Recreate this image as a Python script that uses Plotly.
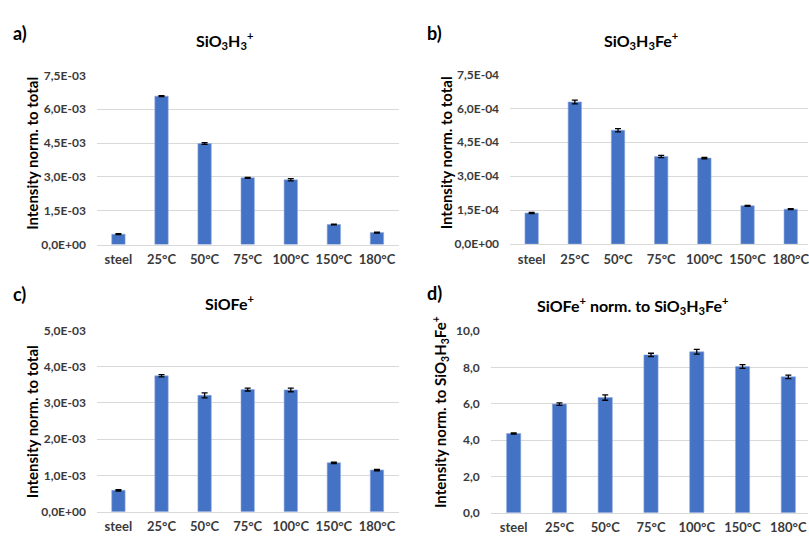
import plotly.graph_objects as go

W, H = 809, 542

categories = ["steel", "25°C", "50°C", "75°C", "100°C", "150°C", "180°C"]

# a) SiO3H3+
a_vals = [0.46e-3, 6.58e-3, 4.48e-3, 2.96e-3, 2.87e-3, 0.89e-3, 0.53e-3]
a_err = [0.02e-3, 0.02e-3, 0.04e-3, 0.02e-3, 0.05e-3, 0.02e-3, 0.02e-3]
a_ticks = [0, 1.5e-3, 3.0e-3, 4.5e-3, 6.0e-3, 7.5e-3]
a_ticktext = ["0,0E+00", "1,5E-03", "3,0E-03", "4,5E-03", "6,0E-03", "7,5E-03"]

# b) SiO3H3Fe+
b_vals = [1.37e-4, 6.28e-4, 5.03e-4, 3.87e-4, 3.80e-4, 1.69e-4, 1.54e-4]
b_err = [0.03e-4, 0.08e-4, 0.07e-4, 0.05e-4, 0.03e-4, 0.02e-4, 0.02e-4]
b_ticks = [0, 1.5e-4, 3.0e-4, 4.5e-4, 6.0e-4, 7.5e-4]
b_ticktext = ["0,0E+00", "1,5E-04", "3,0E-04", "4,5E-04", "6,0E-04", "7,5E-04"]

# c) SiOFe+
c_vals = [0.59e-3, 3.75e-3, 3.21e-3, 3.37e-3, 3.36e-3, 1.35e-3, 1.15e-3]
c_err = [0.02e-3, 0.03e-3, 0.07e-3, 0.04e-3, 0.05e-3, 0.02e-3, 0.02e-3]
c_ticks = [0, 1.0e-3, 2.0e-3, 3.0e-3, 4.0e-3, 5.0e-3]
c_ticktext = ["0,0E+00", "1,0E-03", "2,0E-03", "3,0E-03", "4,0E-03", "5,0E-03"]

# d) SiOFe+ norm. to SiO3H3Fe+
d_vals = [4.36, 5.98, 6.34, 8.69, 8.86, 8.05, 7.48]
d_err = [0.03, 0.07, 0.15, 0.09, 0.13, 0.10, 0.10]
d_ticks = [0, 2, 4, 6, 8, 10]
d_ticktext = ["0,0", "2,0", "4,0", "6,0", "8,0", "10,0"]

BAR = "#4472C4"
GRID = "#D9D9D9"
TICKC = "#3A3A3A"
FONT = "Lato, Open Sans, sans-serif"

def px_x(p):
    return p / W

def px_y(p):
    return 1 - p / H

panels = [
    dict(vals=a_vals, err=a_err, ticks=a_ticks, tt=a_ticktext, ymax=7.5e-3,
         l=97, r=399, t=69.3, b=243.3, xr=[-0.5, 6.5]),
    dict(vals=b_vals, err=b_err, ticks=b_ticks, tt=b_ticktext, ymax=7.5e-4,
         l=510.7, r=809, t=68.3, b=242.7, xr=[-0.5, 6.4]),
    dict(vals=c_vals, err=c_err, ticks=c_ticks, tt=c_ticktext, ymax=5.0e-3,
         l=97, r=399, t=331.7, b=518, xr=[-0.5, 6.5]),
    dict(vals=d_vals, err=d_err, ticks=d_ticks, tt=d_ticktext, ymax=10,
         l=491.4, r=809, t=332.3, b=519, xr=[-0.5, 6.43]),
]

fig = go.Figure()
layout = {}
for i, p in enumerate(panels):
    n = "" if i == 0 else str(i + 1)
    fig.add_trace(go.Bar(
        x=categories, y=p["vals"],
        error_y=dict(type="data", array=p["err"], visible=True,
                     color="black", thickness=1.3, width=3),
        marker=dict(color=BAR, line=dict(color="#8EA9DB", width=0.6)),
        width=0.31,
        xaxis="x" + n, yaxis="y" + n, showlegend=False,
    ))
    layout["xaxis" + n] = dict(
        domain=[px_x(p["l"]), px_x(p["r"])], anchor="y" + n,
        range=p["xr"], type="category",
        showgrid=False, showline=True, linecolor=GRID, linewidth=1,
        ticks="", ticklabelstandoff=3,
        tickfont=dict(family=FONT, size=13, color=TICKC, weight="bold"),
        fixedrange=True,
    )
    layout["yaxis" + n] = dict(
        domain=[px_y(p["b"]), px_y(p["t"])], anchor="x" + n,
        range=[0, p["ymax"]], tickvals=p["ticks"], ticktext=p["tt"],
        showgrid=True, gridcolor=GRID, gridwidth=1, zeroline=False,
        showline=False, ticks="", ticklabelstandoff=10,
        tickfont=dict(family=FONT, size=12, color=TICKC, weight="bold"),
        fixedrange=True,
    )

annotations = []

def ann(text, x, y, size, color="black", angle=0):
    annotations.append(dict(
        text=text, x=px_x(x), y=px_y(y), xref="paper", yref="paper",
        showarrow=False, textangle=angle, xanchor="center", yanchor="middle",
        font=dict(family=FONT, size=size, color=color, weight="bold"),
    ))

# panel labels
ann("a)", 20, 26, 18)
ann("b)", 435, 26, 18)
ann("c)", 20, 294, 18)
ann("d)", 435, 293, 18)

# titles
ann("SiO<sub>3</sub>H<sub>3</sub><sup>+</sup>", 225, 33, 16)
ann("SiO<sub>3</sub>H<sub>3</sub>Fe<sup>+</sup>", 642, 33, 16)
ann("SiOFe<sup>+</sup>", 230, 303, 16)
ann("SiOFe<sup>+</sup> norm. to SiO<sub>3</sub>H<sub>3</sub>Fe<sup>+</sup>", 633, 306, 16)

# y-axis titles
ann("Intensity norm. to total", 32, 149, 15, angle=-90)
ann("Intensity norm. to total", 446, 149, 15, angle=-90)
ann("Intensity norm. to total", 32, 425, 15, angle=-90)
ann("Intensity norm. to SiO<sub>3</sub>H<sub>3</sub>Fe<sup>+</sup>", 441, 415, 15, angle=-90)

fig.update_layout(
    width=W, height=H,
    margin=dict(l=0, r=0, t=0, b=0),
    paper_bgcolor="white", plot_bgcolor="white",
    annotations=annotations,
    **layout,
)

fig.write_html(
    "out.html",
    config={"displayModeBar": False},
    post_script="document.body.style.margin='0px';"
                "document.body.style.overflow='hidden';"
                "document.documentElement.style.overflow='hidden';",
)
